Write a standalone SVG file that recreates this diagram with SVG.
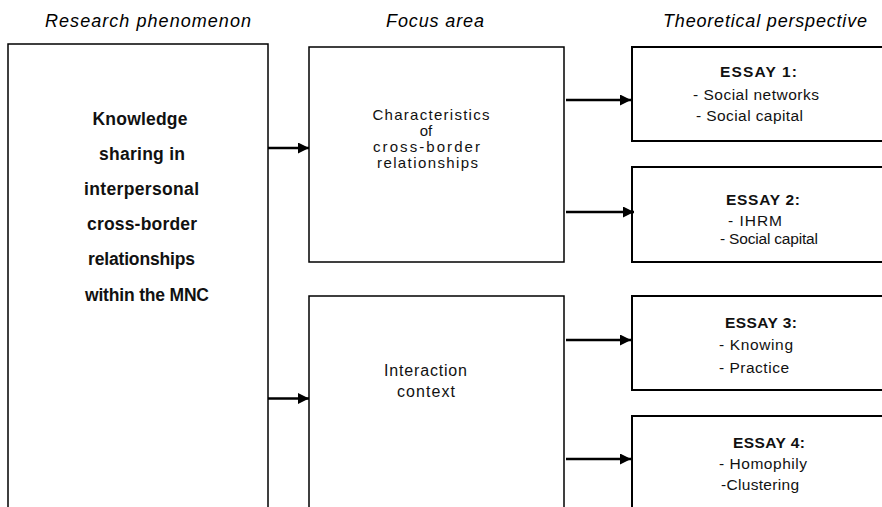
<svg xmlns="http://www.w3.org/2000/svg" width="882" height="507" viewBox="0 0 882 507">
  <style>
    .box { fill: #ffffff; stroke: #000000; stroke-width: 1.5; }
    .box2 { fill: #ffffff; stroke: #000000; stroke-width: 2; }
    .head { font-family: "Liberation Sans", Arial, sans-serif; font-style: italic; font-size: 18px; fill: #000; }
    .main { font-family: "Liberation Sans", Arial, sans-serif; font-weight: bold; font-size: 17.5px; fill: #111; }
    .mid { font-family: "Liberation Sans", Arial, sans-serif; font-size: 15px; fill: #111; }
    .mid2 { font-family: "Liberation Sans", Arial, sans-serif; font-size: 16px; fill: #111; }
    .ess { font-family: "Liberation Sans", Arial, sans-serif; font-size: 15.5px; fill: #111; }
    .essb { font-family: "Liberation Sans", Arial, sans-serif; font-size: 15.5px; font-weight: bold; fill: #111; }
    .conn { stroke: #000000; stroke-width: 2.3; fill: none; marker-end: url(#arrow); }
  </style>
  <defs>
    <marker id="arrow" viewBox="0 0 10 10" refX="10" refY="5" markerWidth="11" markerHeight="11" markerUnits="userSpaceOnUse" orient="auto">
      <path d="M0,0 L10,5 L0,10 z" fill="#000"/>
    </marker>
  </defs>
  <rect width="882" height="507" fill="#ffffff"/>

  <!-- column headings -->
  <g id="headings">
    <text class="head" x="45" y="26.5" textLength="206" lengthAdjust="spacing">Research phenomenon</text>
    <text class="head" x="386" y="26.5" textLength="98" lengthAdjust="spacing">Focus area</text>
    <text class="head" x="663" y="27" textLength="204" lengthAdjust="spacing">Theoretical perspective</text>
  </g>

  <!-- research phenomenon -->
  <g id="phenomenon">
    <rect class="box" x="8" y="44" width="260" height="480"/>
    <text class="main" x="92.5" y="125" textLength="95" lengthAdjust="spacing">Knowledge</text>
    <text class="main" x="99" y="160" textLength="86" lengthAdjust="spacing">sharing in</text>
    <text class="main" x="84" y="195" textLength="115" lengthAdjust="spacing">interpersonal</text>
    <text class="main" x="87" y="230" textLength="110" lengthAdjust="spacing">cross-border</text>
    <text class="main" x="88" y="265" textLength="107" lengthAdjust="spacing">relationships</text>
    <text class="main" x="85" y="301" textLength="124" lengthAdjust="spacing">within the MNC</text>
  </g>

  <!-- focus areas -->
  <g id="characteristics">
    <rect class="box" x="309" y="47" width="255" height="215"/>
    <text class="mid" x="372.5" y="120" textLength="117" lengthAdjust="spacing">Characteristics</text>
    <text class="mid" x="426" y="136" text-anchor="middle">of</text>
    <text class="mid" x="373" y="151.5" textLength="107" lengthAdjust="spacing">cross-border</text>
    <text class="mid" x="377" y="167.5" textLength="101" lengthAdjust="spacing">relationships</text>
  </g>
  <g id="interaction">
    <rect class="box" x="309" y="296" width="255" height="230"/>
    <text class="mid2" x="384" y="375.5" textLength="83" lengthAdjust="spacing">Interaction</text>
    <text class="mid2" x="397" y="396.5" textLength="58" lengthAdjust="spacing">context</text>
  </g>

  <!-- theoretical perspectives -->
  <g id="essay1">
    <rect class="box2" x="632" y="47" width="270" height="94"/>
    <text class="essb" x="720" y="76.5" textLength="77" lengthAdjust="spacing">ESSAY 1:</text>
    <text class="ess" x="693" y="99.5" textLength="126" lengthAdjust="spacing">- Social networks</text>
    <text class="ess" x="696" y="121" textLength="107" lengthAdjust="spacing">- Social capital</text>
  </g>
  <g id="essay2">
    <rect class="box2" x="632" y="167" width="270" height="95"/>
    <text class="essb" x="726" y="204.5" textLength="74" lengthAdjust="spacing">ESSAY 2:</text>
    <text class="ess" x="728" y="226" textLength="54" lengthAdjust="spacing">- IHRM</text>
    <text class="ess" x="720" y="244" textLength="98" lengthAdjust="spacing">- Social capital</text>
  </g>
  <g id="essay3">
    <rect class="box2" x="632" y="296" width="270" height="94"/>
    <text class="essb" x="725" y="327.5" textLength="72" lengthAdjust="spacing">ESSAY 3:</text>
    <text class="ess" x="719" y="350" textLength="74" lengthAdjust="spacing">- Knowing</text>
    <text class="ess" x="719" y="373" textLength="70" lengthAdjust="spacing">- Practice</text>
  </g>
  <g id="essay4">
    <rect class="box2" x="632" y="416" width="270" height="110"/>
    <text class="essb" x="733" y="448" textLength="72" lengthAdjust="spacing">ESSAY 4:</text>
    <text class="ess" x="719" y="468.5" textLength="88" lengthAdjust="spacing">- Homophily</text>
    <text class="ess" x="721" y="490" textLength="78" lengthAdjust="spacing">-Clustering</text>
  </g>

  <!-- connectors -->
  <g id="connectors">
    <line class="conn" x1="268" y1="148" x2="309" y2="148"/>
    <line class="conn" x1="268" y1="398.5" x2="309" y2="398.5"/>
    <line class="conn" x1="566" y1="100" x2="631" y2="100"/>
    <line class="conn" x1="566" y1="212" x2="634" y2="212"/>
    <line class="conn" x1="566" y1="340" x2="631" y2="340"/>
    <line class="conn" x1="566" y1="459" x2="631" y2="459"/>
  </g>
</svg>
